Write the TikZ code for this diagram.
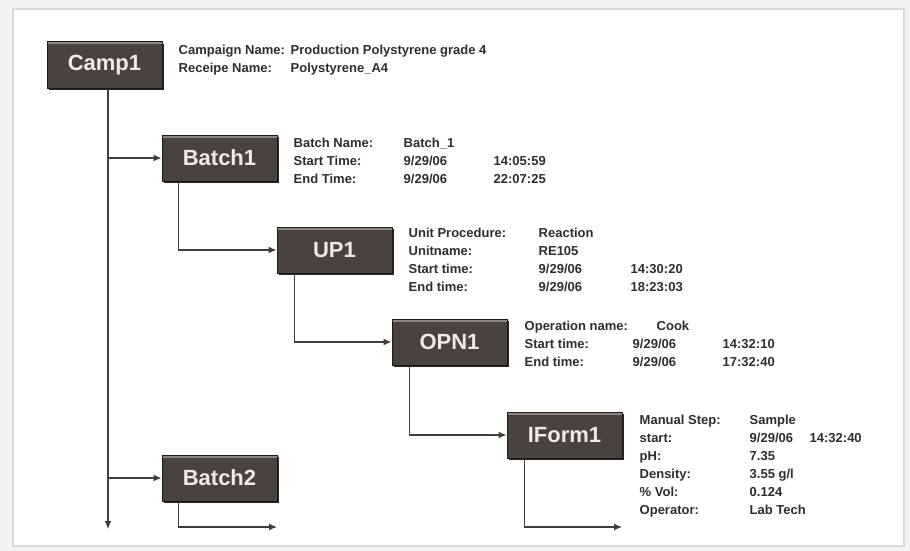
\documentclass[tikz,border=0pt]{standalone}
\usepackage{fontspec}
\setmainfont{Liberation Sans}
\usetikzlibrary{positioning,arrows.meta,shadows}

\definecolor{boxfill}{HTML}{4A423F}
\definecolor{boxdark}{HTML}{1E1A19}
\definecolor{boxlight}{HTML}{8C8582}
\definecolor{boxtext}{HTML}{EEEAE6}
\definecolor{infotext}{HTML}{2E2E2E}
\definecolor{linecol}{HTML}{3E3E3E}

\newcommand\infofont{\bfseries\fontsize{13}{18}\selectfont}
\newcommand\boxfont{\bfseries\fontsize{22}{24}\selectfont}

\tikzset{
  stepbox/.style={rectangle, minimum width=115pt, minimum height=46pt,
    inner sep=0pt, fill=boxfill, draw=boxdark, line width=1pt,
    text=boxtext, font=\boxfont,
    general shadow={fill=black!85, shadow xshift=1.5pt, shadow yshift=-2pt},
    path picture={\draw[boxlight, line width=5pt]
      (path picture bounding box.north west) -- (path picture bounding box.north east);}},
  info/.style={inner sep=0pt, text=infotext, font=\infofont},
  conn/.style={->, draw=linecol, line width=1.2pt},
}

\begin{document}
\begin{tikzpicture}[x=1pt, y=-1pt, >={Latex[length=8pt,width=7pt]}]
    \useasboundingbox (0,0) rectangle (910,551);
    \fill[gray!10] (0,0) rectangle (910,551);
    \filldraw[fill=white, draw=gray!30, line width=1.5pt] (13,9) rectangle (904,546);

    % process tree
    \node(camp)[stepbox] at (104.5,65) {Camp1};
    \node(batch1)[stepbox, on grid, below right=93pt and 115pt of camp] {Batch1};
    \node(up1)[stepbox, on grid, below right=92pt and 115pt of batch1] {UP1};
    \node(opn1)[stepbox, on grid, below right=92pt and 115pt of up1] {OPN1};
    \node(iform1)[stepbox, on grid, below right=93pt and 115pt of opn1] {IForm1};
    \node(batch2)[stepbox, on grid, below=320pt of batch1] {Batch2};

    \coordinate(campend) at (108,529);
    \coordinate(batch2end) at (277,527);
    \coordinate(iformend) at (622,527);

    \draw[conn] ([xshift=3.5pt]camp.south) -- (campend);
    \draw[conn] ([xshift=3.5pt]camp.south) |- (batch1.west);
    \draw[conn] ([xshift=3.5pt]camp.south) |- (batch2.west);
    \draw[conn] ([xshift=17pt]batch1.south west) |- (up1.west);
    \draw[conn] ([xshift=18pt]up1.south west) |- (opn1.west);
    \draw[conn] ([xshift=18pt]opn1.south west) |- (iform1.west);
    \draw[conn] ([xshift=18pt]iform1.south west) |- (iformend);
    \draw[conn] ([xshift=17pt]batch2.south west) |- (batch2end);

    % record details
    \node(campinfo)[info, below right=0pt and 16pt of camp.north east] {%
      \begin{tabular}{@{}p{112pt}@{}l@{}}
        Campaign Name: & Production Polystyrene grade 4\\
        Receipe Name: & Polystyrene\_A4
      \end{tabular}};
    \node(batchinfo)[info, below right=0pt and 16pt of batch1.north east] {%
      \begin{tabular}{@{}p{110pt}@{}p{90pt}@{}l@{}}
        Batch Name: & Batch\_1 & \\
        Start Time: & 9/29/06 & 14:05:59\\
        End Time: & 9/29/06 & 22:07:25
      \end{tabular}};
    \node(upinfo)[info, below right=-2pt and 16pt of up1.north east] {%
      \begin{tabular}{@{}p{130pt}@{}p{92pt}@{}l@{}}
        Unit Procedure: & Reaction & \\
        Unitname: & RE105 & \\
        Start time: & 9/29/06 & 14:30:20\\
        End time: & 9/29/06 & 18:23:03
      \end{tabular}};
    \node(opninfo)[info, below right=-1pt and 17pt of opn1.north east] {%
      \begin{tabular}{@{}p{108pt}@{}p{90pt}@{}l@{}}
        Operation name: & \hspace*{24pt}Cook & \\
        Start time: & 9/29/06 & 14:32:10\\
        End time: & 9/29/06 & 17:32:40
      \end{tabular}};
    \node(iforminfo)[info, below right=0pt and 17pt of iform1.north east] {%
      \begin{tabular}{@{}p{110pt}@{}p{60pt}@{}l@{}}
        Manual Step: & Sample & \\
        start: & 9/29/06 & 14:32:40\\
        pH: & 7.35 & \\
        Density: & 3.55 g/l & \\
        \% Vol: & 0.124 & \\
        Operator: & Lab Tech &
      \end{tabular}};
  \end{tikzpicture}
\end{document}
